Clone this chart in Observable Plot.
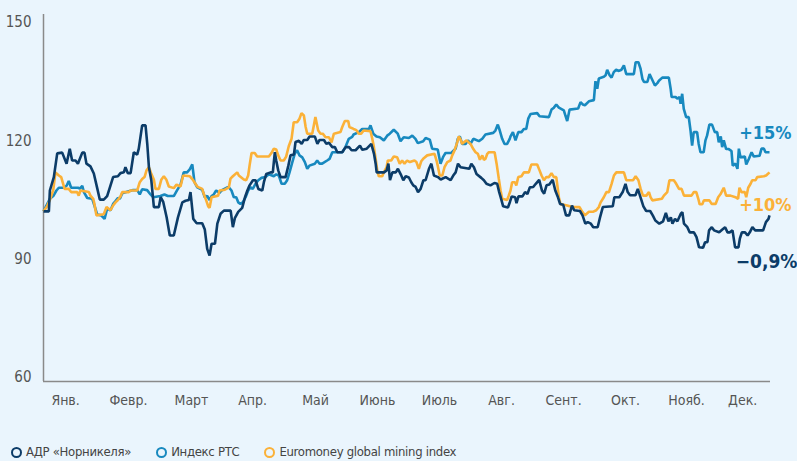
<!DOCTYPE html>
<html><head><meta charset="utf-8">
<script src="https://cdn.jsdelivr.net/npm/d3@7"></script>
<script src="https://cdn.jsdelivr.net/npm/@observablehq/plot@0.6"></script>
<style>
html,body{margin:0;padding:0;background:#eaf5fd;}
body{width:797px;height:461px;overflow:hidden;font-family:"Liberation Sans Narrow","DejaVu Sans Condensed","Roboto",sans-serif;}
#legend{display:flex;margin-top:19px;font-size:13px;letter-spacing:-0.3px;color:#444;line-height:16px;}
#legend .it{display:flex;align-items:center;margin-left:11px;margin-right:14px;}
#legend .dot{width:7px;height:7px;border-radius:50%;border:2px solid;margin-right:4px;}
</style></head><body>
<div id="chart"></div>
<div id="legend"></div>
<script>
const seriesNames = ["АДР «Норникеля»", "Индекс РТС", "Euromoney global mining index"];
const seriesColors = ["#0c3c68", "#1889bf", "#fbb138"];
const monthLabels = ["Янв.","Февр.","Март","Апр.","Май","Июнь","Июль","Авг.","Сент.","Окт.","Нояб.","Дек."];
const monthTickDays = [11.1, 42.7, 74.4, 105.1, 136.8, 167.9, 199.1, 230.3, 261.5, 292.6, 323.3, 351.5];
const yTicks = [60, 90, 120, 150];
const endLabels = ["−0,9%", "+15%", "+10%"];

// [day of year, index value]
const adr = [[0,102.1],[2.7,102.1],[3.2,107.4],[5.2,110.8],[6.9,116.8],[9.4,117],[11.6,114.2],[13.2,118],[14.4,115],[16.1,115],[17.3,114.2],[19.5,117],[20.6,117],[21.6,114.2],[23.6,113.5],[25.3,111.7],[27,108],[28.3,105.1],[30.3,105.1],[32,106],[33.7,108.7],[35,110.8],[37.4,111],[38.7,111.8],[40.4,112],[41.2,113.3],[42.4,111.8],[43.8,111.8],[45.4,117.1],[47.1,116.5],[47.9,118],[49.6,123.9],[51.3,123.9],[52.2,119],[53,113.3],[54.2,110],[55.5,103.2],[58,103.2],[58.9,105.7],[60.2,104.5],[61.9,100.6],[63.5,96],[65.5,96],[67.6,100.6],[69.8,104.4],[71.4,104.8],[73.1,105],[73.9,107],[75.3,100.2],[77,99.1],[79.8,99.1],[81.1,97.5],[82.3,92.6],[83.5,90.9],[84.5,93.9],[86.2,93.9],[87.4,99],[89,101.5],[90.7,102.3],[94.1,102.3],[95.2,98.1],[96.2,100.4],[97.9,102],[99.9,103],[101.3,105.7],[102.5,107.4],[103.6,108.7],[105.3,110],[106.6,110],[108,107.8],[110,107.4],[110.8,109.5],[112,111.6],[114.2,112],[115.3,112],[116.3,117.1],[117,115],[118,112.5],[119.2,110.8],[121.7,110.8],[123.1,113.7],[124.2,116.3],[125.9,116.5],[126.7,119.7],[128.4,120],[129.8,119.2],[130.9,120.2],[132.6,120.2],[133.8,121.1],[136.4,121.1],[137.7,119.2],[138.8,120.2],[141,120.2],[142.2,119.2],[143.5,119.5],[145.2,118.4],[146.5,118.4],[147.7,117.1],[150.2,117.1],[151.9,118.4],[153.6,118.4],[154.9,117.6],[156.9,117.6],[159.1,118.8],[160.3,117.7],[162.5,118],[164.8,119.2],[166.2,116.6],[167,114.2],[167.5,112],[171.2,112],[172.5,112.5],[173.4,114.2],[174.2,110],[175.4,112],[177.1,112],[178.2,112.9],[179.6,111.5],[180.9,110],[182.1,111],[183.7,110.7],[184.9,109.5],[185.9,108.7],[187.1,108.3],[188.3,107],[189.6,107.8],[191,110],[192.1,110],[193.8,112.9],[195,114.2],[196.3,111.2],[198.3,110.8],[199.7,110.2],[202.2,110.8],[204.7,110],[206,111.2],[207.2,112],[208.4,114.2],[209.7,113.3],[214.1,112.9],[215.1,114.2],[216.4,113.3],[217.7,111.6],[220.1,110.6],[221.4,110],[222.7,109.1],[224.7,108.7],[226.7,109.3],[228.1,109.1],[229.1,107],[229.8,105.8],[231.1,103.4],[233.5,103.1],[234.5,104.5],[235.4,105.9],[237.1,105.7],[237.8,104.2],[238.8,105.9],[240.8,105.9],[242.1,107],[243.3,106.5],[244.5,108.2],[246.2,108.3],[247.5,109.1],[249.2,110.1],[250.6,107.4],[251.7,106.6],[252.9,108.7],[254.3,108.9],[256,110.1],[257.3,107.4],[258.5,105.9],[259.7,104],[261.3,103.8],[262.7,101.1],[264.3,101.1],[265.7,103.6],[266.8,102.4],[269.7,102.2],[271,101.1],[272.4,99],[273.6,99.4],[275.2,99],[276.4,98.1],[278.6,98.1],[279.8,100.6],[281.2,103.2],[286.2,103.4],[287,105.7],[289.5,105.7],[291.2,107],[292.6,109.1],[293.7,107],[294.9,106.2],[297.6,106.2],[298.8,107.8],[300.4,105.3],[301.6,103.4],[303,102.2],[305,102.2],[306.3,101.1],[307.6,99.8],[309.6,99],[311.5,99.6],[312.9,101.7],[314.2,99.6],[315.4,100.6],[316.2,99],[317.5,100.2],[318.7,99.6],[320.4,101.5],[321.2,101.9],[322,99],[323.7,98.1],[324.9,96.8],[327,96.8],[328.3,95.6],[329.6,93],[331.6,92.9],[332.6,94.3],[333.8,94.3],[334.6,97.3],[336,98.1],[337.1,97.3],[339.7,96.8],[341.3,97.5],[342.7,98.1],[343.9,96.8],[345,96.8],[346.4,97.3],[347.7,93],[349.4,93],[350.1,95.2],[351.1,96.8],[352.7,96.8],[354,96],[355.1,96.8],[356.4,98.1],[357.8,97.3],[361.8,97.3],[363.2,99.4],[364.5,100.2],[365,101.1]];

const rts = [[0,102.1],[1.9,104],[3.2,105.3],[4.9,106],[6.5,107.4],[7.7,108.1],[10.2,108.1],[11.6,108.6],[12.7,109.8],[13.9,108.1],[17.3,108.1],[18.3,107.9],[19.5,108.6],[20.3,107],[22,105.5],[24.5,105.3],[25.6,103.6],[27,101.3],[29,101.1],[30.7,100.2],[32,102.8],[33.7,102.4],[35,104],[36.2,104.7],[37.4,105.5],[38.4,105.3],[39.6,106.7],[42.9,107.2],[45.1,107.5],[47.1,107.5],[48.4,106.4],[49.6,107.7],[52.1,107.5],[53.8,106.4],[55.2,105.7],[58.8,106],[60.8,106.4],[62.5,106],[65.5,106],[67.2,107.5],[68.9,108.9],[70.5,112],[72.2,112],[73.6,112.8],[74.8,114],[75.9,109.5],[77.3,108.2],[79.8,107.6],[81.1,105.7],[82.3,106],[83.5,105],[84.5,106],[85.6,106.4],[86.8,107.4],[88.5,106.8],[89.5,107.4],[92.4,108.2],[93.2,108.2],[94.5,107.4],[95.7,105.7],[96.9,105.7],[97.9,104.4],[99,104],[100.2,104.4],[101.6,105.7],[102.9,107.4],[104.1,108.2],[105.2,107.8],[106.6,109.1],[108,110],[109.6,110.6],[111.6,110.8],[113.3,111.5],[115.8,111],[117,111.5],[118.3,111.2],[119.7,109.1],[121.3,109.1],[122.5,110],[123.7,112],[125,114.4],[126.3,116.7],[127.5,117.6],[128.7,116.3],[130.1,115.8],[131.4,114.6],[132.6,112.9],[133.7,113.7],[136.4,114.2],[137.6,115],[138.8,114.2],[140.1,114.2],[142.6,115],[143.8,115.4],[145.2,117.1],[150.2,117.1],[151.8,118.4],[153.5,120.5],[155.2,121],[155.9,121.6],[158.5,122.2],[160.2,123],[163.6,123],[164.4,123.9],[165.8,121.8],[167.4,121.1],[169.1,120.9],[171.1,120.1],[172.8,121.3],[174.1,121.8],[176.1,122.8],[178.1,121.8],[179.5,119.9],[181.1,120.9],[183.7,120.7],[185.4,121.3],[187,120.5],[188.2,119.4],[190.9,119.9],[192.1,120.7],[194.2,120.3],[195.4,118],[198.2,117.8],[199.6,114.2],[201,116],[202.1,116.9],[205,116.9],[206,117.4],[207.2,118],[208.3,120.5],[209.3,121.1],[210.5,119.2],[212.2,119.2],[213.4,120.1],[214.7,119.2],[216.1,120.5],[218.9,119.9],[220.6,120.5],[222.2,121.6],[226.1,122],[227.2,122.6],[228.4,124.1],[229.4,122.6],[230.6,120.5],[231.8,119.2],[233.1,119.2],[234.4,120.5],[234.8,121.1],[236,122.2],[237.3,120.1],[238.7,122.2],[240.3,122.2],[241.5,123],[242.7,123],[243.7,125.6],[244.9,126.8],[248.2,127],[249.4,126.2],[254.1,126],[255.4,127.9],[256.6,128.4],[257.8,129.2],[259.1,128.4],[261.6,127.7],[262.4,126.4],[263.3,125],[264.5,127.9],[268.8,128.2],[270,129.8],[271.1,129.2],[272.2,129],[274.2,130],[276.7,130.3],[277.5,135.1],[278.4,133.2],[279.2,135.8],[281.7,136.2],[282.6,136.6],[283.4,138],[284.6,136.6],[285.6,136],[286.7,137.4],[287.9,138],[289.3,137.7],[290.6,138],[291.8,139.1],[293,136.9],[296.8,136.9],[297.7,139.9],[299.1,139.9],[300.2,138.2],[301.1,135.7],[301.9,134.9],[303.6,134.9],[304.7,136.9],[306.1,135.4],[307.4,134],[308.6,134.6],[309.4,135.2],[311.1,136],[314.4,136],[315.3,133.2],[315.8,131.1],[317.8,131.1],[318.6,130.7],[319.8,131.1],[320.3,129.4],[321.1,131.9],[321.9,128.1],[323.1,126],[324.4,126],[325.3,122.6],[326.1,118.8],[326.9,122.2],[328.6,122.2],[329.4,119.2],[330.3,117.1],[331.9,117.1],[332.8,120.1],[333.6,121.3],[334.8,124.1],[336.1,124.1],[337.5,122.2],[338.7,122.2],[339.5,119.6],[340.5,121.1],[341.2,118.4],[342,120.1],[343.2,117.9],[344.5,117.9],[345.9,117.4],[346.5,113.7],[347.9,114.2],[348.9,112.9],[349.6,118],[350.4,115.8],[352.6,116],[353.3,114],[354.6,115.4],[356,117.1],[357.1,116],[360,116.2],[361,118],[362.2,118],[363,117.1],[365,117.1]];

const emm = [[0,102.1],[1.9,103.5],[3.2,105],[4.9,107.5],[6,112],[7.7,111.2],[8.9,110.8],[10.6,107.8],[12.7,107.8],[13.9,107],[16.9,107],[17.7,106.1],[18.6,107.4],[22.8,107],[23.6,106.1],[25,105.3],[25.6,104],[26.6,101.1],[30.3,101.4],[31.7,103.2],[33.7,102.4],[35,103.6],[36.2,104.4],[37.4,105],[38.7,105.9],[39.6,107],[42.9,107],[43.7,107.4],[47.1,107.4],[48.4,109.5],[49.6,110.3],[50.8,110.8],[51.8,112.5],[53,113.3],[54.1,111.8],[55.5,110.1],[56.3,107.8],[58,107.8],[59.2,110.1],[60.5,111],[61.8,110.1],[63,108.4],[65.5,108],[66.9,108.9],[68.9,108.4],[70.2,111.2],[73.6,111],[74.8,110.3],[75.9,109.5],[77.3,108.4],[78.1,108.2],[79.8,107.8],[80.6,106.5],[81.8,104.9],[82.8,103.4],[83.5,103],[84.5,105.7],[87.8,106.1],[88.5,107.4],[91.2,107.6],[93.2,108.2],[94,110.4],[95.2,111],[97.4,112],[98.2,111.2],[100.7,110.2],[101.9,110],[102.9,111.2],[103.6,113.7],[104.6,116.9],[106.2,116.9],[107.4,116],[113.3,116],[114.6,116.9],[115.8,118],[117,117.8],[118,116.3],[119.2,115],[120.8,115],[122,116],[123.3,118.6],[124.7,120.5],[125.8,124.7],[127.5,124.7],[128.7,125.6],[129.7,127],[130.9,126.4],[131.8,123.5],[132.6,121.8],[135.1,121.8],[135.9,123.9],[136.7,126],[138.1,122.6],[139.3,121.8],[140.4,121.8],[141.8,120.9],[143.5,120.9],[144.8,119.6],[146,121.8],[149.3,122.2],[150.2,123.5],[151.5,125],[153.2,125],[153.8,123.5],[155.9,123],[157.3,122.7],[158.5,121.8],[159.7,121.8],[161,122.6],[164.4,122.4],[165.3,120.5],[166.1,118.4],[167,115.4],[167.8,112.5],[168.6,111],[170.3,111],[171.1,112],[172.5,113.3],[173.1,115],[174.8,115],[176.1,116],[177.8,115.8],[179.1,114.2],[180.3,115],[181.5,114.2],[182.8,115],[184.2,114.6],[186.5,115],[187.5,114.6],[188.7,112.9],[189.9,114.8],[191.2,115.6],[192.9,116.3],[196.6,116.7],[197.6,115],[198.2,113.7],[199.2,111.2],[200.5,111.2],[201.6,113.3],[203,114.6],[204.6,115],[205.5,116.3],[206.6,117.5],[208,119.6],[208.8,121.1],[209.7,120.3],[210.5,119.2],[211.3,119.6],[212.7,120.1],[213.8,119.6],[214.7,119.2],[216.1,117.9],[217.2,117.1],[218.4,116.7],[219.4,115.2],[220.6,116.3],[221.4,115.2],[222.2,115.4],[223.1,116.7],[223.9,117.1],[226.8,117.1],[227.8,114.2],[228.9,110.4],[229.8,107.4],[230.6,105.3],[233.1,105],[233.9,106.1],[234.8,107.4],[235.6,109.5],[237,109.5],[237.7,108.7],[238.7,110.8],[240.3,111],[241.5,112],[244,112],[245.3,114],[248.2,114],[249.4,112.5],[250.4,111.2],[251.6,110],[252.8,110.8],[254.1,110.8],[255.4,111.8],[256.6,110.8],[257.8,110.8],[259.1,105.7],[259.9,104],[263.3,103.6],[265.8,103.2],[269.5,103.2],[270.9,102],[272.2,101.1],[274.2,102],[276.2,102],[277.9,102.4],[279.2,103.2],[280.1,104.4],[281.7,105.7],[283,107],[284.3,107],[285.6,109.1],[286.8,111.2],[288,112],[291.8,112],[293,110],[296.4,110],[297.7,111],[299.1,110],[300.2,107.8],[301.4,106.1],[303.1,106.1],[304.4,107],[305.2,105.7],[306.1,104.9],[310.9,105.3],[311.9,106.1],[313.6,107],[314.7,110],[316.9,110],[318.1,109.1],[319.5,107.8],[320.8,107.8],[322,106.1],[325.8,106.1],[327,107],[328.2,107],[329.2,105.3],[329.9,103.9],[331.2,103.9],[332,104.9],[334.8,104.9],[335.9,104],[337.9,104],[339.2,105.7],[340.4,106.5],[342,108.1],[343.2,106.1],[345.4,106.1],[347.9,105.7],[349.2,105.3],[349.9,108.1],[350.9,107],[352.6,107],[353.3,105.7],[354.3,108.1],[355.5,109.1],[356.3,110],[358,110],[358.8,110.8],[362.2,111],[363.3,111.2],[365,112]];

const series = [adr, rts, emm];
const yMin = 59, yMax = 152, xMax = 365;
const labelByDay = new Map(monthTickDays.map((d, i) => [d, monthLabels[i]]));
const FONT = '"Liberation Sans Narrow","DejaVu Sans Condensed","Roboto",sans-serif';

const lineMark = (k) => Plot.line(series[k], {x: d => d[0], y: d => d[1], stroke: seriesColors[k], strokeWidth: 2.6, strokeLinejoin: "miter", strokeLinecap: "butt"});
const endText = (k, dx, dy, size) => Plot.text([series[k][series[k].length - 1]], {
  x: d => d[0], y: d => d[1], text: () => endLabels[k], fill: seriesColors[k],
  textAnchor: "end", dx, dy, fontSize: size, fontWeight: "bold"
});

const chart = Plot.plot({
  width: 797, height: 425,
  marginTop: 14, marginBottom: 44, marginLeft: 43, marginRight: 28,
  style: {background: "transparent", fontFamily: FONT, color: "#555"},
  x: {domain: [0, xMax], axis: null},
  y: {domain: [yMin, yMax], axis: null},
  marks: [
    Plot.axisY({ticks: yTicks, tickSize: 0, tickPadding: 12, fontSize: 15, fill: "#555"}),
    Plot.axisX({ticks: monthTickDays, tickFormat: d => labelByDay.get(d), tickSize: 0, tickPadding: 14, fontSize: 14, fill: "#555"}),
    Plot.ruleX([0], {y1: yMin, y2: yMax, stroke: "#8a8a8a", strokeWidth: 1.5}),
    Plot.ruleY([yMin], {x1: 0, x2: xMax + 0.5, stroke: "#8a8a8a", strokeWidth: 1.5}),
    lineMark(1),
    lineMark(2),
    lineMark(0),
    endText(1, 22, -19, 18),
    endText(2, 22, 33, 18),
    endText(0, 28, 47, 19)
  ]
});
document.getElementById("chart").appendChild(chart);

const legend = document.getElementById("legend");
seriesNames.forEach((n, i) => {
  const it = document.createElement("div");
  it.className = "it";
  it.innerHTML = `<span class="dot" style="border-color:${seriesColors[i]}"></span><span>${n}</span>`;
  legend.appendChild(it);
});
</script>
</body></html>
